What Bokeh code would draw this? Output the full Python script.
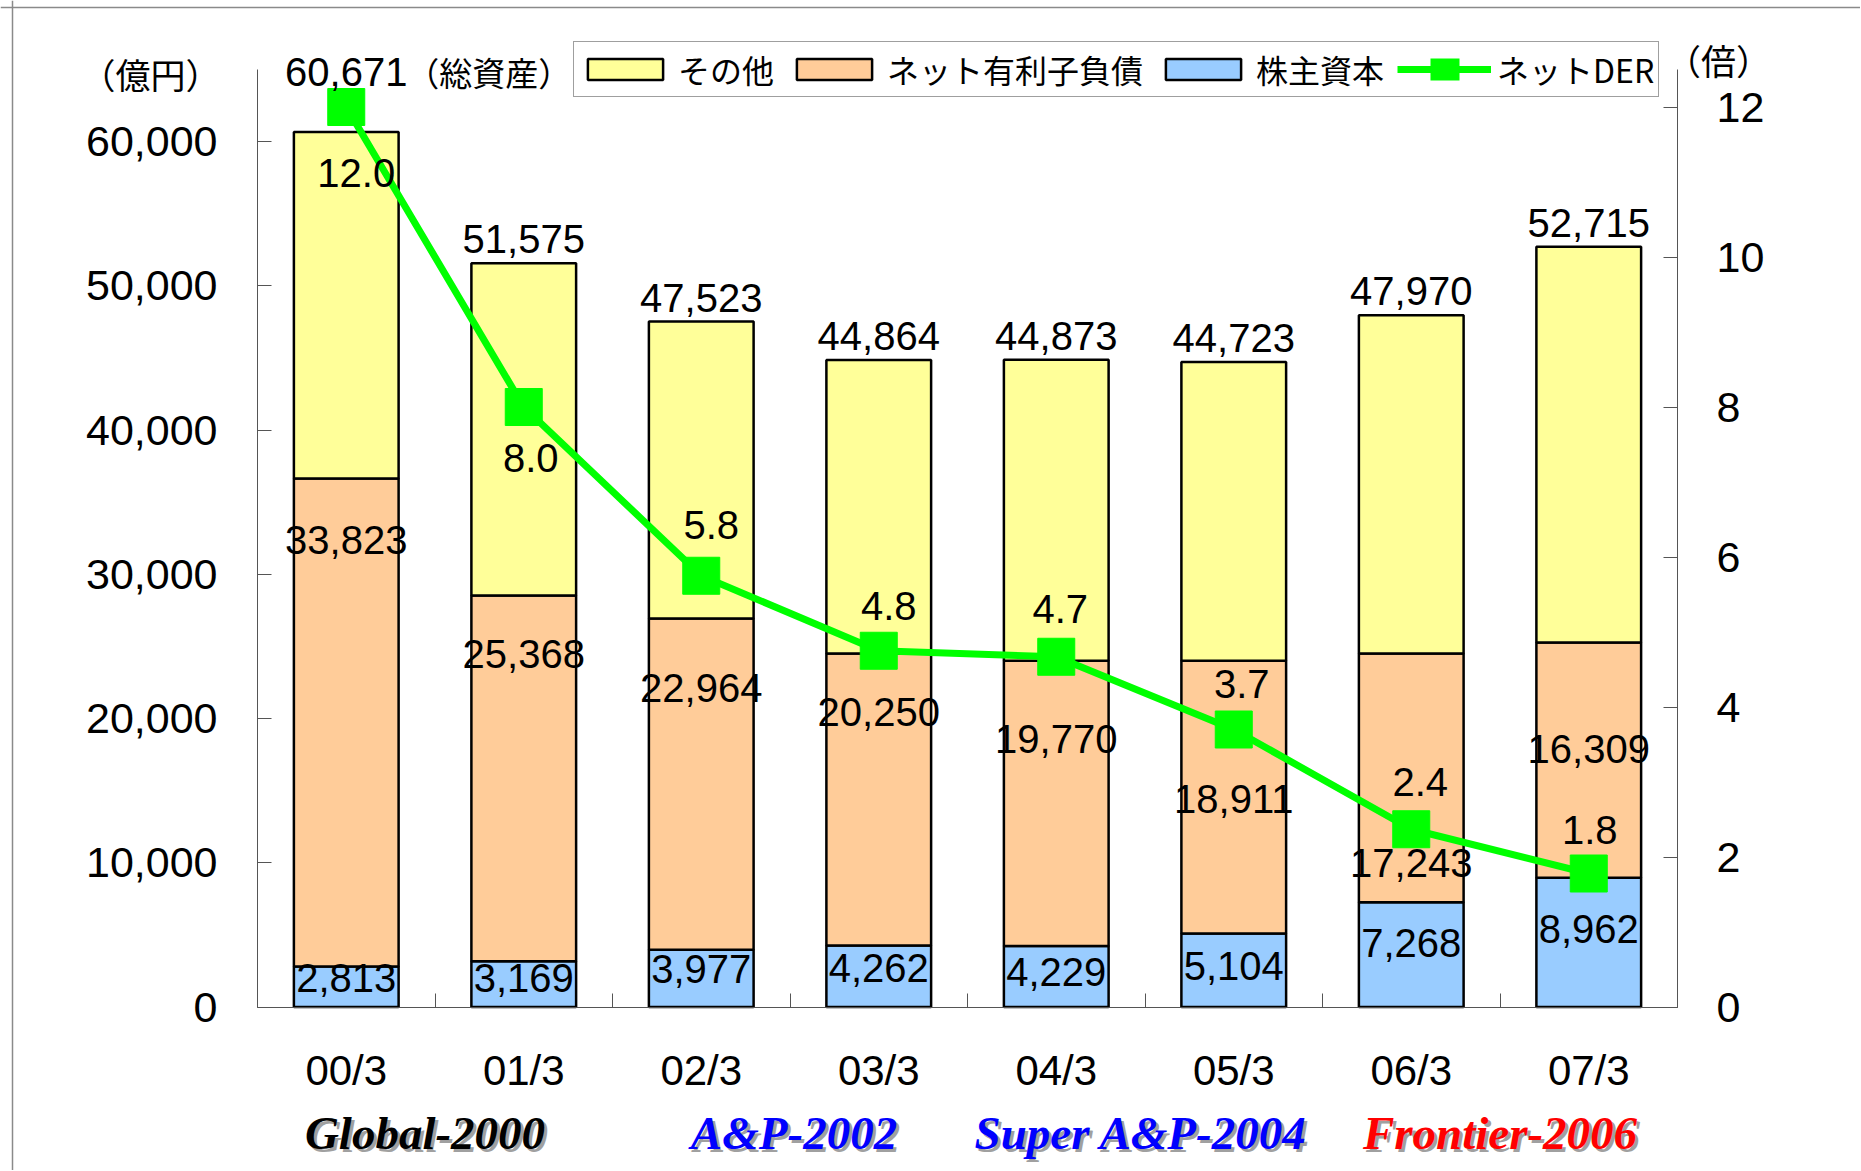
from bokeh.plotting import figure
from bokeh.models import (Range1d, LinearAxis, FixedTicker, NumeralTickFormatter,
                          ColumnDataSource, LabelSet, Label, Legend, LegendItem, Span)
from bokeh.core.properties import value
from bokeh.embed import file_html
from bokeh.resources import INLINE

# ---------------- data ----------------
periods = ["00/3", "01/3", "02/3", "03/3", "04/3", "05/3", "06/3", "07/3"]
total_assets = [60671, 51575, 47523, 44864, 44873, 44723, 47970, 52715]   # 総資産
net_debt = [33823, 25368, 22964, 20250, 19770, 18911, 17243, 16309]       # ネット有利子負債
equity = [2813, 3169, 3977, 4262, 4229, 5104, 7268, 8962]                # 株主資本
net_der = [12.0, 8.0, 5.75, 4.75, 4.67, 3.70, 2.37, 1.78]                # ネットDER (倍)
plans = ["Global-2000", "A&P-2002", "Super A&P-2004", "Frontier-2006"]
plan_colors = ["#000000", "#0000FF", "#0000FF", "#FF0000"]
left_ticks = [0, 10000, 20000, 30000, 40000, 50000, 60000]
right_ticks = [0, 2, 4, 6, 8, 10, 12]
series_names = ["その他", "ネット有利子負債", "株主資本", "ネットDER"]

# ---------------- layout / style ----------------
W, H = 1860, 1170            # canvas == frame (so nothing gets clipped)
N = len(periods)
Y_MAX, R_MAX = 65000, 12.5
X0, Y0, YTOP = 257, 1006.5, 69   # pixel position of the axes box
PX_X = (1677 - X0) / N
PX_Y = (Y0 - YTOP) / Y_MAX
PX_R = (Y0 - YTOP) / R_MAX
NUM_FONT = "Liberation Sans"
JP_FONT = "Noto Sans CJK JP"
C_OTHER, C_DEBT, C_EQ, C_DER = "#FFFF99", "#FFCC99", "#99CCFF", "#00FF00"
AX_COLOR = "#555555"

# label offsets in screen px (positive = up / right)
top_off = [60, 24, 24, 24, 24, 24, 24, 24]
debt_off = [183, 124, 96, 87, 64, -2, -85, 11]
eq_off = [9, 6, 9, 8, 5, 4, 12, 13]
der_off_y = [-66, -51, 51, 45, 48, 46, 47, 44]
der_off_x = [10, 7, 10, 10, 4, 8, 9, 1]
plan_at = [1, 3, 5, 7]
plan_dx = [-10, 4, -4, 0]

xs = [i + 0.5 for i in range(N)]
eq_top = equity
debt_top = [e + d for e, d in zip(equity, net_debt)]

src = ColumnDataSource(dict(
    x=xs, zero=[0] * N, eq_top=eq_top, debt_top=debt_top, total=total_assets,
    der=net_der,
    top_lab=[f"{v:,}" for v in total_assets],
    top_y=[t + o / PX_Y for t, o in zip(total_assets, top_off)],
    debt_lab=[f"{v:,}" for v in net_debt],
    debt_y=[e + d / 2 + o / PX_Y for e, d, o in zip(equity, net_debt, debt_off)],
    eq_lab=[f"{v:,}" for v in equity],
    eq_y=[e / 2 + o / PX_Y for e, o in zip(equity, eq_off)],
    der_lab=[f"{v:.1f}" for v in net_der],
    der_x=[x + o / PX_X for x, o in zip(xs, der_off_x)],
    der_y=[d + o / PX_R for d, o in zip(net_der, der_off_y)],
))

x_range = Range1d(-X0 / PX_X, (W - X0) / PX_X)
y_range = Range1d(-(H - Y0) / PX_Y, Y_MAX + YTOP / PX_Y)
p = figure(frame_width=W, frame_height=H, x_range=x_range, y_range=y_range,
           output_backend="svg", toolbar_location=None,
           min_border=0, min_border_left=0, min_border_right=0,
           min_border_top=0, min_border_bottom=0)
p.extra_y_ranges = {"der": Range1d(-(H - Y0) / PX_R, R_MAX + YTOP / PX_R)}
p.xgrid.visible = False
p.ygrid.visible = False
p.outline_line_color = None
p.background_fill_color = "white"
p.border_fill_color = "white"

# outer frame lines of the original slide
p.add_layout(Span(location=(12 - X0) / PX_X, dimension="height",
                  line_color="#8a8a8a", line_width=1.5))
p.add_layout(Span(location=Y_MAX + (YTOP - 7) / PX_Y, dimension="width",
                  line_color="#8a8a8a", line_width=1.5))

# ---------------- bars ----------------
BW = 0.59
r_eq = p.vbar(x="x", bottom="zero", top="eq_top", width=BW, source=src,
              fill_color=C_EQ, line_color="black", line_width=2.5)
r_debt = p.vbar(x="x", bottom="eq_top", top="debt_top", width=BW, source=src,
                fill_color=C_DEBT, line_color="black", line_width=2.5)
r_other = p.vbar(x="x", bottom="debt_top", top="total", width=BW, source=src,
                 fill_color=C_OTHER, line_color="black", line_width=2.5)

# ---------------- DER line ----------------
r_line = p.line(x="x", y="der", source=src, y_range_name="der",
                line_color=C_DER, line_width=7)
r_pts = p.scatter(x="x", y="der", source=src, y_range_name="der",
                  marker="square", size=37, fill_color=C_DER, line_color=C_DER)
# legend-only square (its data lies outside the visible range)
r_leg_sq = p.line(x=[-60, -59], y=[0, 0], y_range_name="der", line_color=C_DER,
                  line_width=22, line_dash="0 33 29 200")

# ---------------- data labels ----------------
def labelset(xf, yf, tf, y_range_name="default"):
    return LabelSet(x=xf, y=yf, text=tf, source=src, y_range_name=y_range_name,
                    text_font=value(NUM_FONT), text_font_size="40px",
                    text_color="black", text_align="center", text_baseline="middle")

p.add_layout(labelset("x", "top_y", "top_lab"))
p.add_layout(labelset("x", "debt_y", "debt_lab"))
p.add_layout(labelset("x", "eq_y", "eq_lab"))
p.add_layout(labelset("der_x", "der_y", "der_lab", "der"))

p.add_layout(Label(x=xs[0] + 60 / PX_X, y=total_assets[0] + top_off[0] / PX_Y,
                   text="（総資産）", text_font=JP_FONT, text_font_size="33px",
                   text_align="left", text_baseline="middle", text_color="black"))
p.add_layout(Label(x=-107 / PX_X, y=Y_MAX - 4 / PX_Y, text="（億円）",
                   text_font=JP_FONT, text_font_size="35px",
                   text_align="center", text_baseline="middle", text_color="black"))
p.add_layout(Label(x=N + 41 / PX_X, y=Y_MAX + 10 / PX_Y, text="（倍）",
                   text_font=JP_FONT, text_font_size="35px",
                   text_align="center", text_baseline="middle", text_color="black"))

# plan names with shadow
for name, col, at, dx in zip(plans, plan_colors, plan_at, plan_dx):
    for sh, c in ((3, "#A0A0A0"), (0, col)):
        p.add_layout(Label(x=at + (dx + sh) / PX_X, y=-(126 + sh) / PX_Y, text=name,
                           text_font="Liberation Serif", text_font_style="bold italic",
                           text_font_size="47px", text_color=c,
                           text_align="center", text_baseline="middle"))

# ---------------- axes ----------------
xa = p.xaxis[0]
xa.fixed_location = 0
xa.bounds = (0, N)
xa.ticker = FixedTicker(ticks=xs, minor_ticks=list(range(0, N + 1)))
xa.major_label_overrides = {x: lab for x, lab in zip(xs, periods)}
xa.major_tick_line_color = None
xa.major_tick_in = 0
xa.major_tick_out = 0
xa.minor_tick_in = 14
xa.minor_tick_out = 0
xa.minor_tick_line_color = AX_COLOR
xa.axis_line_color = AX_COLOR
xa.major_label_text_font = NUM_FONT
xa.major_label_text_font_size = "42px"
xa.major_label_text_color = "black"
xa.major_label_standoff = 40

ya = p.yaxis[0]
ya.fixed_location = 0
ya.bounds = (0, Y_MAX)
ya.ticker = FixedTicker(ticks=left_ticks)
ya.formatter = NumeralTickFormatter(format="0,0")
ya.major_tick_in = 14
ya.major_tick_out = 0
ya.minor_tick_line_color = None
ya.major_tick_line_color = AX_COLOR
ya.axis_line_color = AX_COLOR
ya.major_label_text_font = NUM_FONT
ya.major_label_text_font_size = "43px"
ya.major_label_text_color = "black"
ya.major_label_standoff = 40

ra = LinearAxis(y_range_name="der", ticker=FixedTicker(ticks=right_ticks),
                fixed_location=N, bounds=(0, R_MAX))
ra.major_tick_in = 14
ra.major_tick_out = 0
ra.minor_tick_line_color = None
ra.major_tick_line_color = AX_COLOR
ra.axis_line_color = AX_COLOR
ra.major_label_text_font = NUM_FONT
ra.major_label_text_font_size = "43px"
ra.major_label_text_color = "black"
ra.major_label_standoff = 39
p.add_layout(ra, "right")

# ---------------- legend ----------------
legend = Legend(items=[
    LegendItem(label=series_names[0], renderers=[r_other]),
    LegendItem(label=series_names[1], renderers=[r_debt]),
    LegendItem(label=series_names[2], renderers=[r_eq]),
    LegendItem(label=series_names[3], renderers=[r_line, r_leg_sq]),
], orientation="horizontal", location=(573, H - 97),
    glyph_width=94, glyph_height=26, label_standoff=6, spacing=13,
    padding=4, margin=0, border_line_color="#404040", border_line_width=1,
    background_fill_color="white", background_fill_alpha=1.0,
    label_text_font=JP_FONT, label_text_font_size="32px", label_text_color="black")
p.add_layout(legend)

open("out.html", "w").write(file_html(p, INLINE))
